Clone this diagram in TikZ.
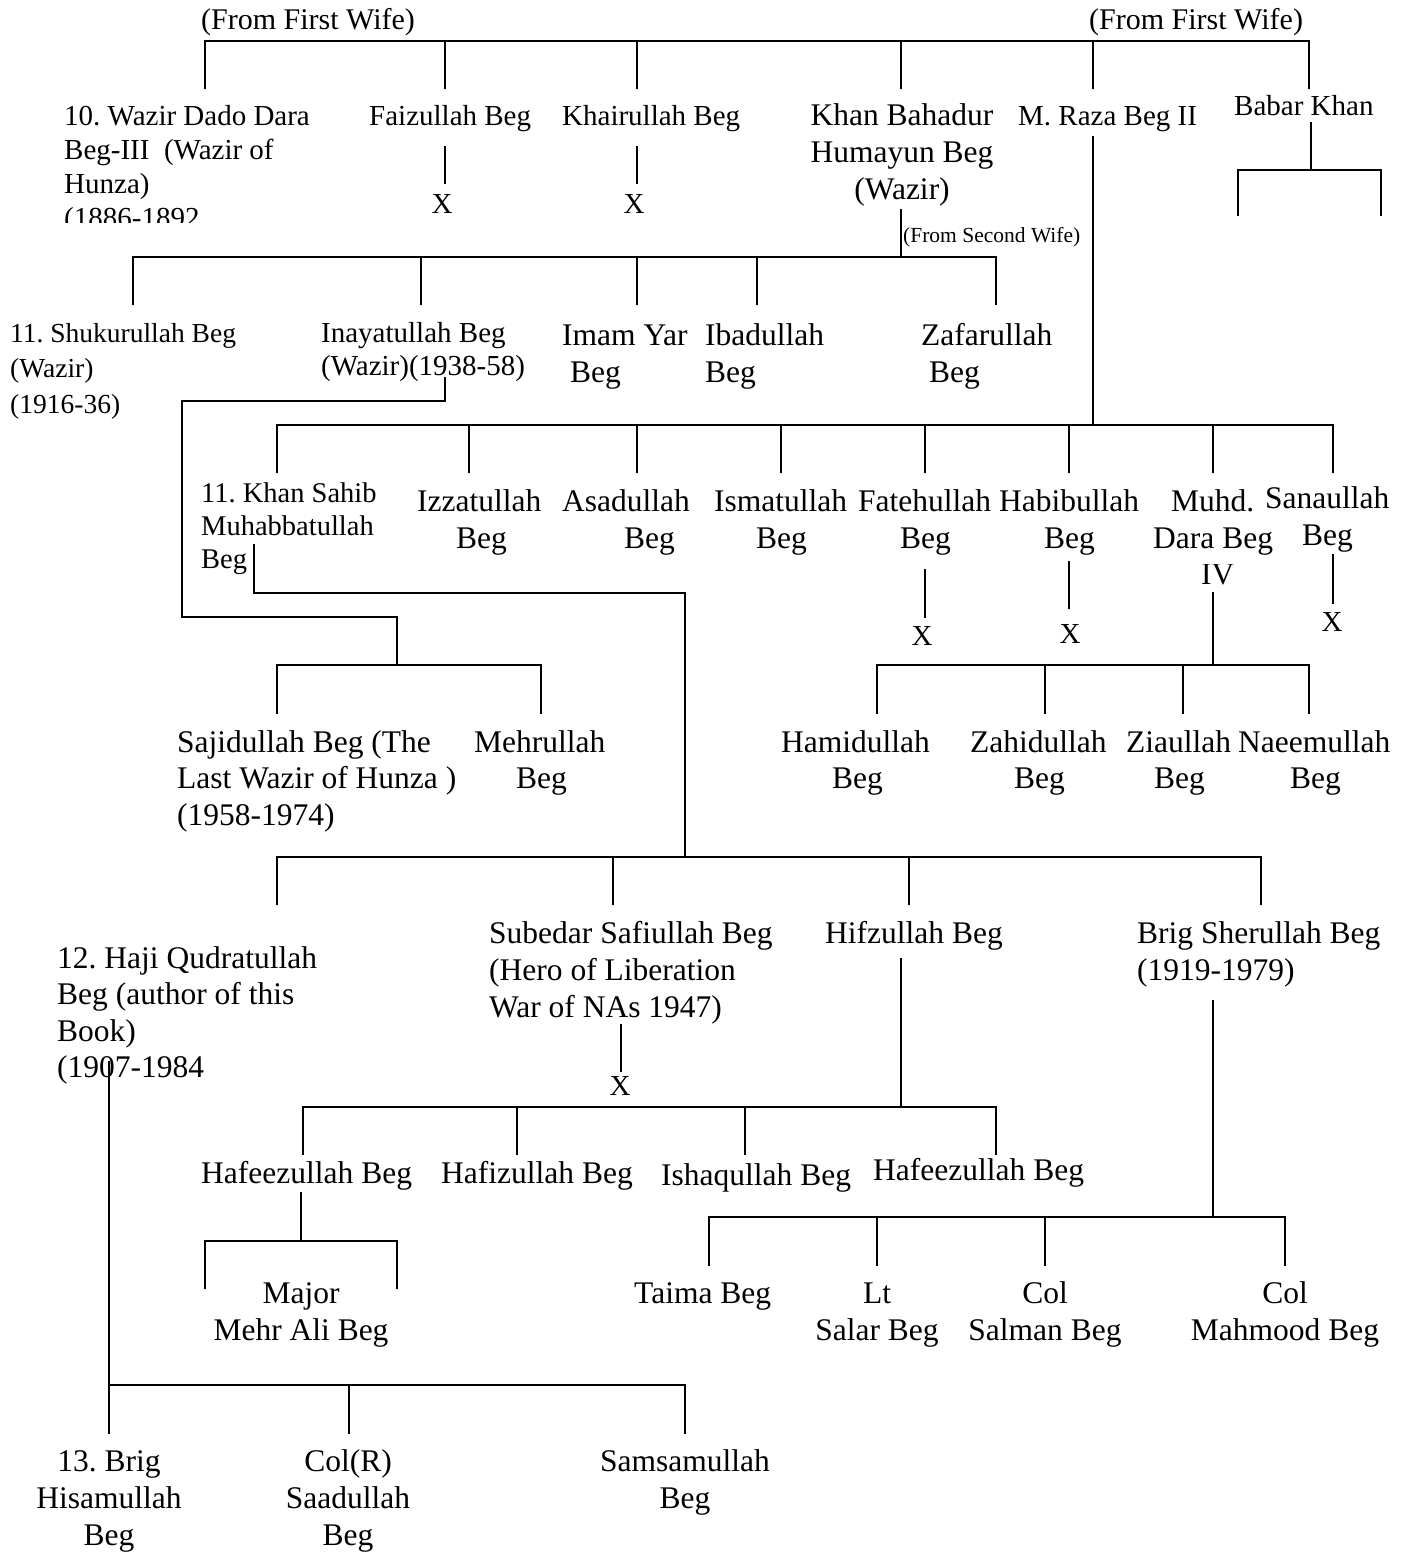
\documentclass[tikz,border=0pt]{standalone}
\usepackage{fontspec}
\setmainfont{Liberation Serif}
\frenchspacing
\newcommand\fsz[1]{\fontsize{#1}{#1}\selectfont}
\begin{document}
\begin{tikzpicture}[x=1pt,y=-1pt,
  tl/.style={inner sep=0pt, anchor=base west},
  tc/.style={inner sep=0pt, anchor=base},
  fbig/.style={font=\fsz{31.5}},
  fthirty/.style={font=\fsz{30}},
  fmid/.style={font=\fsz{29}},
  fsml/.style={font=\fsz{28.5}},
  fxs/.style={font=\fsz{27.5}},
  ftiny/.style={font=\fsz{21.5}},
  ln/.style={line width=1.9pt, line cap=rect}]
\useasboundingbox (0,0) rectangle (1406,1552);

% ---------------- texts: generation 1
\node[tl,fthirty] (ffw1) at (201,30) {(From First Wife)};
\node[tl,fthirty] (ffw2) at (1089,30) {(From First Wife)};
\begin{scope}
\clip (0,0) rectangle (400,222);
\node[tl,fmid] (wdd) at (64,126) {10. Wazir Dado Dara};
\node[tl,fmid] (wdd2) at (64,160) {Beg-III\ \ (Wazir of};
\node[tl,fmid] (wdd3) at (64,193) {Hunza)};
\node[tl,fmid] (wdd4) at (64,227) {(1886-1892};
\end{scope}
\node[tl,fmid] (faiz) at (369,125) {Faizullah Beg};
\node[tl,fmid] (khai) at (562,125) {Khairullah Beg};
\node[tc,fmid] (faizx) at (442,213) {X};
\node[tc,fmid] (khaix) at (634,213) {X};
\node[tc,fbig] (khan) at (902,125) {Khan Bahadur};
\node[tc,fbig] (khan2) at (902,162) {Humayun Beg};
\node[tc,fbig] (khan3) at (902,199) {(Wazir)};
\node[tl,fmid] (raza) at (1018,125) {M. Raza Beg II};
\node[tl,fmid] (babar) at (1234,116) {Babar Khan};

% ---------------- generation 2 (Khan Bahadur)
\node[tl,ftiny] (fsw) at (903,242) {(From Second Wife)};
\node[tl,fxs] (shuk) at (10,342) {11. Shukurullah Beg};
\node[tl,fxs] (shuk2) at (10,377) {(Wazir)};
\node[tl,fxs] (shuk3) at (10,413) {(1916-36)};
\node[tl,fmid] (inay) at (321,342) {Inayatullah Beg};
\node[tl,fmid] (inay2) at (321,375) {(Wazir)(1938-58)};
\node[tl,fbig] (imam) at (562,345) {Imam Yar};
\node[tl,fbig] (imam2) at (570,382) {Beg};
\node[tl,fbig] (ibad) at (705,345) {Ibadullah};
\node[tl,fbig] (ibad2) at (705,382) {Beg};
\node[tl,fbig] (zafa) at (921,345) {Zafarullah};
\node[tl,fbig] (zafa2) at (929,382) {Beg};

% ---------------- generation 2 (M. Raza)
\node[tl,fsml] (ksah) at (201,502) {11. Khan Sahib};
\node[tl,fsml] (ksah2) at (201,535) {Muhabbatullah};
\node[tl,fsml] (ksah3) at (201,568) {Beg};
\node[tl,fbig] (izza) at (417,511) {Izzatullah};
\node[tl,fbig] (izza2) at (456,548) {Beg};
\node[tl,fbig] (asad) at (562,511) {Asadullah};
\node[tl,fbig] (asad2) at (624,548) {Beg};
\node[tl,fbig] (isma) at (714,511) {Ismatullah};
\node[tl,fbig] (isma2) at (756,548) {Beg};
\node[tl,fbig] (fate) at (858,511) {Fatehullah};
\node[tl,fbig] (fate2) at (900,548) {Beg};
\node[tl,fbig] (habi) at (999,511) {Habibullah};
\node[tl,fbig] (habi2) at (1044,548) {Beg};
\node[tl,fbig] (muhd) at (1171,511) {Muhd.};
\node[tl,fbig] (muhd2) at (1153,548) {Dara Beg};
\begin{scope}
\clip (1150,564) rectangle (1260,600);
\node[tl,fbig] (muhd3) at (1201,584) {IV};
\end{scope}
\node[tl,fbig] (sana) at (1265,508) {Sanaullah};
\node[tl,fbig] (sana2) at (1302,545) {Beg};
\node[tc,fmid] (fatex) at (922,645) {X};
\node[tc,fmid] (habix) at (1070,643) {X};
\node[tc,fmid] (sanax) at (1332,631) {X};

% ---------------- generation 3 rows
\node[tl,fbig] (saji) at (177,752) {Sajidullah Beg (The};
\node[tl,fbig] (saji2) at (177,788) {Last Wazir of Hunza )};
\node[tl,fbig] (saji3) at (177,825) {(1958-1974)};
\node[tl,fbig] (mehr) at (474,752) {Mehrullah};
\node[tl,fbig] (mehr2) at (516,788) {Beg};
\node[tl,fbig] (hami) at (781,752) {Hamidullah};
\node[tl,fbig] (hami2) at (832,788) {Beg};
\node[tl,fbig] (zahi) at (970,752) {Zahidullah};
\node[tl,fbig] (zahi2) at (1014,788) {Beg};
\node[tl,fbig] (ziau) at (1126,752) {Ziaullah};
\node[tl,fbig] (ziau2) at (1154,788) {Beg};
\node[tl,fbig] (naee) at (1238,752) {Naeemullah};
\node[tl,fbig] (naee2) at (1290,788) {Beg};

\node[tl,fbig] (haji) at (57,968) {12. Haji Qudratullah};
\node[tl,fbig] (haji2) at (57,1004) {Beg (author of this};
\node[tl,fbig] (haji3) at (57,1041) {Book)};
\node[tl,fbig] (haji4) at (57,1077) {(1907-1984};
\node[tl,fbig] (sube) at (489,943) {Subedar Safiullah Beg};
\node[tl,fbig] (sube2) at (489,980) {(Hero of Liberation};
\node[tl,fbig] (sube3) at (489,1017) {War of NAs 1947)};
\node[tc,fmid] (subex) at (620,1095) {X};
\node[tl,fbig] (hifz) at (825,943) {Hifzullah Beg};
\node[tl,fbig] (sher) at (1137,943) {Brig Sherullah Beg};
\node[tl,fbig] (sher2) at (1137,980) {(1919-1979)};

\node[tl,fbig] (hafe) at (201,1183) {Hafeezullah Beg};
\node[tl,fbig] (hafi) at (441,1183) {Hafizullah Beg};
\node[tl,fbig] (isha) at (661,1185) {Ishaqullah Beg};
\node[tl,fbig] (hafr) at (873,1180) {Hafeezullah Beg};

\node[tc,fbig] (majo) at (301,1303) {Major};
\node[tc,fbig] (majo2) at (301,1340) {Mehr Ali Beg};
\node[tl,fbig] (taim) at (634,1303) {Taima Beg};
\node[tc,fbig] (sala) at (877,1303) {Lt};
\node[tc,fbig] (sala2) at (877,1340) {Salar Beg};
\node[tc,fbig] (salm) at (1045,1303) {Col};
\node[tc,fbig] (salm2) at (1045,1340) {Salman Beg};
\node[tc,fbig] (mahm) at (1285,1303) {Col};
\node[tc,fbig] (mahm2) at (1285,1340) {Mahmood Beg};

\node[tc,fbig] (hisa) at (109,1471) {13. Brig};
\node[tc,fbig] (hisa2) at (109,1508) {Hisamullah};
\node[tc,fbig] (hisa3) at (109,1545) {Beg};
\node[tc,fbig] (saad) at (348,1471) {Col(R)};
\node[tc,fbig] (saad2) at (348,1508) {Saadullah};
\node[tc,fbig] (saad3) at (348,1545) {Beg};
\node[tc,fbig] (sams) at (685,1471) {Samsamullah};
\node[tc,fbig] (sams2) at (685,1508) {Beg};

% ---------------- connectors
% generation 1 bus
\coordinate (g1L) at (205,41); \coordinate (g1R) at (1309,41);
\draw[ln] (g1L) -- (g1R);
\foreach \x [count=\i] in {205,445,637,901,1093,1309}
  {\coordinate (g1u\i) at (\x,41); \coordinate (g1d\i) at (\x,88); \draw[ln] (g1u\i) -- (g1d\i);}
% Faizullah / Khairullah issue-less
\coordinate (faizA) at (445,147); \coordinate (faizB) at (445,183); \draw[ln] (faizA) -- (faizB);
\coordinate (khaiA) at (637,147); \coordinate (khaiB) at (637,183); \draw[ln] (khaiA) -- (khaiB);
% Babar Khan
\coordinate (babA) at (1311,123); \coordinate (babB) at (1311,170);
\coordinate (babL) at (1238,170); \coordinate (babR) at (1381,170);
\coordinate (babLd) at (1238,215); \coordinate (babRd) at (1381,215);
\draw[ln] (babA) -- (babB);
\draw[ln] (babLd) -- (babL) -- (babR) -- (babRd);
% Khan Bahadur children
\coordinate (khanA) at (901,210); \coordinate (khanB) at (901,257);
\draw[ln] (khanA) -- (khanB);
\coordinate (g2L) at (133,257); \coordinate (g2R) at (996,257);
\draw[ln] (g2L) -- (g2R);
\foreach \x [count=\i] in {133,421,637,757,996}
  {\coordinate (g2u\i) at (\x,257); \coordinate (g2d\i) at (\x,304); \draw[ln] (g2u\i) -- (g2d\i);}
% M. Raza children
\coordinate (razaA) at (1093,137); \coordinate (razaB) at (1093,425);
\draw[ln] (razaA) -- (razaB);
\coordinate (g3L) at (277,425); \coordinate (g3R) at (1333,425);
\draw[ln] (g3L) -- (g3R);
\foreach \x [count=\i] in {277,469,637,781,925,1069,1213,1333}
  {\coordinate (g3u\i) at (\x,425); \coordinate (g3d\i) at (\x,472); \draw[ln] (g3u\i) -- (g3d\i);}
\coordinate (fateA) at (925,570); \coordinate (fateB) at (925,617); \draw[ln] (fateA) -- (fateB);
\coordinate (habiA) at (1069,562); \coordinate (habiB) at (1069,608); \draw[ln] (habiA) -- (habiB);
\coordinate (sanaA) at (1333,555); \coordinate (sanaB) at (1333,603); \draw[ln] (sanaA) -- (sanaB);
% Inayatullah children
\coordinate (inA) at (445,378); \coordinate (inB) at (445,401); \coordinate (inC) at (182,401);
\coordinate (inD) at (182,617); \coordinate (inE) at (397,617); \coordinate (inF) at (397,665);
\draw[ln] (inA) -- (inB) -- (inC) -- (inD) -- (inE) -- (inF);
\coordinate (sjL) at (277,665); \coordinate (sjR) at (541,665);
\coordinate (sjLd) at (277,713); \coordinate (sjRd) at (541,713);
\draw[ln] (sjLd) -- (sjL) -- (sjR) -- (sjRd);
% Muhd Dara Beg children
\coordinate (mdA) at (1213,593); \coordinate (mdB) at (1213,665); \draw[ln] (mdA) -- (mdB);
\coordinate (mdL) at (877,665); \coordinate (mdR) at (1309,665);
\draw[ln] (mdL) -- (mdR);
\foreach \x [count=\i] in {877,1045,1183,1309}
  {\coordinate (mdu\i) at (\x,665); \coordinate (mdd\i) at (\x,713); \draw[ln] (mdu\i) -- (mdd\i);}
% Khan Sahib children
\coordinate (ksA) at (254,545); \coordinate (ksB) at (254,593); \coordinate (ksC) at (685,593);
\coordinate (ksD) at (685,857);
\draw[ln] (ksA) -- (ksB) -- (ksC) -- (ksD);
\coordinate (g4L) at (277,857); \coordinate (g4R) at (1261,857);
\draw[ln] (g4L) -- (g4R);
\foreach \x [count=\i] in {277,613,909,1261}
  {\coordinate (g4u\i) at (\x,857); \coordinate (g4d\i) at (\x,904); \draw[ln] (g4u\i) -- (g4d\i);}
% Subedar
\coordinate (subA) at (621,1025); \coordinate (subB) at (621,1071); \draw[ln] (subA) -- (subB);
% Hifzullah children
\coordinate (hfA) at (901,959); \coordinate (hfB) at (901,1107); \draw[ln] (hfA) -- (hfB);
\coordinate (hfL) at (303,1107); \coordinate (hfR) at (996,1107);
\draw[ln] (hfL) -- (hfR);
\foreach \x [count=\i] in {303,517,745,996}
  {\coordinate (hfu\i) at (\x,1107); \coordinate (hfd\i) at (\x,1154); \draw[ln] (hfu\i) -- (hfd\i);}
% Hafeezullah child
\coordinate (haA) at (301,1193); \coordinate (haB) at (301,1241); \draw[ln] (haA) -- (haB);
\coordinate (haL) at (205,1241); \coordinate (haR) at (397,1241);
\coordinate (haLd) at (205,1288); \coordinate (haRd) at (397,1288);
\draw[ln] (haLd) -- (haL) -- (haR) -- (haRd);
% Brig Sherullah children
\coordinate (shA) at (1213,1001); \coordinate (shB) at (1213,1217); \draw[ln] (shA) -- (shB);
\coordinate (shL) at (709,1217); \coordinate (shR) at (1285,1217);
\draw[ln] (shL) -- (shR);
\foreach \x [count=\i] in {709,877,1045,1285}
  {\coordinate (shu\i) at (\x,1217); \coordinate (shd\i) at (\x,1265); \draw[ln] (shu\i) -- (shd\i);}
% Haji Qudratullah children
\coordinate (hjA) at (109,1062); \coordinate (hjB) at (109,1433); \draw[ln] (hjA) -- (hjB);
\coordinate (hjL) at (109,1385); \coordinate (hjR) at (685,1385);
\draw[ln] (hjL) -- (hjR);
\foreach \x [count=\i] in {349,685}
  {\coordinate (hju\i) at (\x,1385); \coordinate (hjd\i) at (\x,1433); \draw[ln] (hju\i) -- (hjd\i);}
\end{tikzpicture}
\end{document}
